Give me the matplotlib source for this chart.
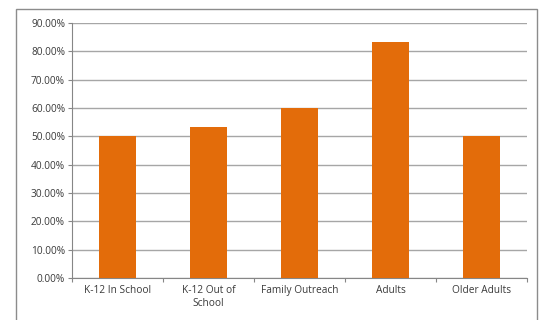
import matplotlib
matplotlib.use("Agg")
import matplotlib.pyplot as plt
from matplotlib.patches import Rectangle
from matplotlib.ticker import PercentFormatter, FixedLocator

categories = ["K-12 In School", "K-12 Out of\nSchool", "Family Outreach", "Adults", "Older Adults"]
values = [50.0, 53.33, 60.0, 83.33, 50.0]
yticks = [0, 10, 20, 30, 40, 50, 60, 70, 80, 90]

plt.rcParams['font.family'] = ['Open Sans', 'DejaVu Sans']

fig = plt.figure(figsize=(5.4, 3.2), dpi=100)
ax = fig.add_axes([0.1333, 0.13125, 0.976 - 0.1333, 0.928 - 0.13125])

x = range(len(categories))
ax.bar(x, values, width=0.4, color="#E36C0A", zorder=3)

ax.set_xlim(-0.5, len(categories) - 0.5)
ax.set_ylim(0, 90)
ax.set_yticks(yticks)
ax.yaxis.set_major_formatter(PercentFormatter(decimals=2))
ax.yaxis.grid(True, color="#A6A6A6", linewidth=1.0, zorder=0)

# boundaries get the tick marks, centres get the labels
ax.xaxis.set_major_locator(FixedLocator([i - 0.5 for i in range(len(categories) + 1)]))
ax.set_xticklabels([], minor=False)
ax.xaxis.set_minor_locator(FixedLocator(list(x)))
ax.xaxis.set_minor_formatter(plt.FixedFormatter(categories))
ax.tick_params(axis="x", which="major", length=3, color="#868686")
ax.tick_params(axis="x", which="minor", length=0, labelsize=7.3, labelcolor="#3A3A3A", pad=5)
ax.tick_params(axis="y", length=3, color="#868686", labelsize=7.3, labelcolor="#3A3A3A", pad=2)

for side in ["top", "right"]:
    ax.spines[side].set_visible(False)
ax.spines["left"].set_color("#868686")
ax.spines["bottom"].set_color("#868686")

# outer chart border
fig.patches.append(Rectangle((16 / 540, -0.05), (537 - 16) / 540, 1 - 9 / 320 + 0.05,
                             transform=fig.transFigure, fill=False,
                             edgecolor="#8C8C8C", linewidth=1.0))

fig.savefig("out.png", dpi=100)
